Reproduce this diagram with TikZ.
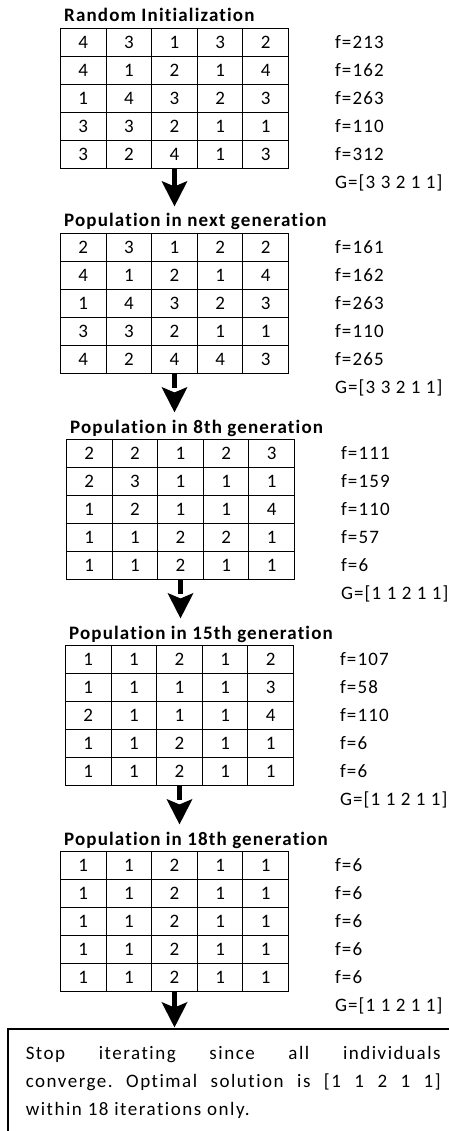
\documentclass[tikz,border=0pt]{standalone}
\usepackage{fontspec}
\setmainfont{Carlito}[LetterSpace=6, Ligatures=NoCommon]
\newfontfamily\notefont{Carlito}[LetterSpace=8, Ligatures=NoCommon]
\usetikzlibrary{matrix,arrows.meta}
\frenchspacing

\tikzset{
  cell/.style={draw, line width=1pt, minimum width=45.6pt, minimum height=28pt, inner sep=0pt},
  pop/.style={matrix of nodes, inner sep=0pt, column sep=-1pt, row sep=-1pt, nodes={cell},
    column 6/.style={nodes={draw=none, minimum width=0pt, anchor=base west}}},
  poptitle/.style={font=\fontsize{19pt}{23pt}\selectfont\bfseries, anchor=base west, inner sep=0pt},
  stepline/.style={line width=5pt, -{Stealth[length=25pt,width=25pt,inset=5pt]}, shorten >=7pt},
  skipline/.style={stepline, dash pattern=on 14pt off 40pt}
}

\begin{document}
\begin{tikzpicture}[x=1pt, y=-1pt, font=\fontsize{19pt}{23pt}\selectfont]
 \useasboundingbox (0,0) rectangle (449,1131);
 \clip (0,0) rectangle (449,1131);

 \matrix (m1) [pop, anchor=m1-1-1.north west] at (60,28)
  {
    4 & 3 & 1 & 3 & 2 &[47pt] f=213 \\
    4 & 1 & 2 & 1 & 4 & f=162 \\
    1 & 4 & 3 & 2 & 3 & f=263 \\
    3 & 3 & 2 & 1 & 1 & f=110 \\
    3 & 2 & 4 & 1 & 3 & f=312 \\[1pt]
      &   &   &   &   & G=[3 3 2 1 1] \\
  };
 \node[poptitle] (t1) at ([shift={(4pt,6pt)}]m1-1-1.north west) {Random Initialization};

 \matrix (m2) [pop, anchor=m2-1-1.north west] at (60,233)
  {
    2 & 3 & 1 & 2 & 2 &[47pt] f=161 \\
    4 & 1 & 2 & 1 & 4 & f=162 \\
    1 & 4 & 3 & 2 & 3 & f=263 \\
    3 & 3 & 2 & 1 & 1 & f=110 \\
    4 & 2 & 4 & 4 & 3 & f=265 \\[1pt]
      &   &   &   &   & G=[3 3 2 1 1] \\
  };
 \node[poptitle] (t2) at ([shift={(4pt,6pt)}]m2-1-1.north west) {Population in next generation};

 \matrix (m3) [pop, anchor=m3-1-1.north west] at (66,439)
  {
    2 & 2 & 1 & 2 & 3 &[47pt] f=111 \\
    2 & 3 & 1 & 1 & 1 & f=159 \\
    1 & 2 & 1 & 1 & 4 & f=110 \\
    1 & 1 & 2 & 2 & 1 & f=57 \\
    1 & 1 & 2 & 1 & 1 & f=6 \\[1pt]
      &   &   &   &   & G=[1 1 2 1 1] \\
  };
 \node[poptitle] (t3) at ([shift={(4pt,6pt)}]m3-1-1.north west) {Population in 8th generation};

 \matrix (m4) [pop, anchor=m4-1-1.north west] at (65,645)
  {
    1 & 1 & 2 & 1 & 2 &[47pt] f=107 \\
    1 & 1 & 1 & 1 & 3 & f=58 \\
    2 & 1 & 1 & 1 & 4 & f=110 \\
    1 & 1 & 2 & 1 & 1 & f=6 \\
    1 & 1 & 2 & 1 & 1 & f=6 \\[1pt]
      &   &   &   &   & G=[1 1 2 1 1] \\
  };
 \node[poptitle] (t4) at ([shift={(4pt,6pt)}]m4-1-1.north west) {Population in 15th generation};

 \matrix (m5) [pop, anchor=m5-1-1.north west] at (60,851)
  {
    1 & 1 & 2 & 1 & 1 &[47pt] f=6 \\
    1 & 1 & 2 & 1 & 1 & f=6 \\
    1 & 1 & 2 & 1 & 1 & f=6 \\
    1 & 1 & 2 & 1 & 1 & f=6 \\
    1 & 1 & 2 & 1 & 1 & f=6 \\[1pt]
      &   &   &   &   & G=[1 1 2 1 1] \\
  };
 \node[poptitle] (t5) at ([shift={(4pt,6pt)}]m5-1-1.north west) {Population in 18th generation};

 % stopping note, cut off by the page edge
 \node[draw, line width=1.5pt, anchor=north west, text width=415pt, inner xsep=18pt, inner ysep=18pt,
   align=justify, font=\notefont\fontsize{19pt}{28pt}\selectfont] (stop) at (7,1028)
   {Stop iterating since all individuals\linebreak
    converge. Optimal solution is [1 1 2 1 1]\linebreak
    within 18 iterations only.};

 \path
  (m1-5-3.south) edge[stepline] (m1-5-3.south |- t2.north)
  (m2-5-3.south) edge[skipline] (m2-5-3.south |- t3.north)
  (m3-5-3.south) edge[skipline] (m3-5-3.south |- t4.north)
  (m4-5-3.south) edge[skipline] (m4-5-3.south |- t5.north)
  (m5-5-3.south) edge[stepline, shorten >=0.5pt] (m5-5-3.south |- stop.north);
\end{tikzpicture}
\end{document}
